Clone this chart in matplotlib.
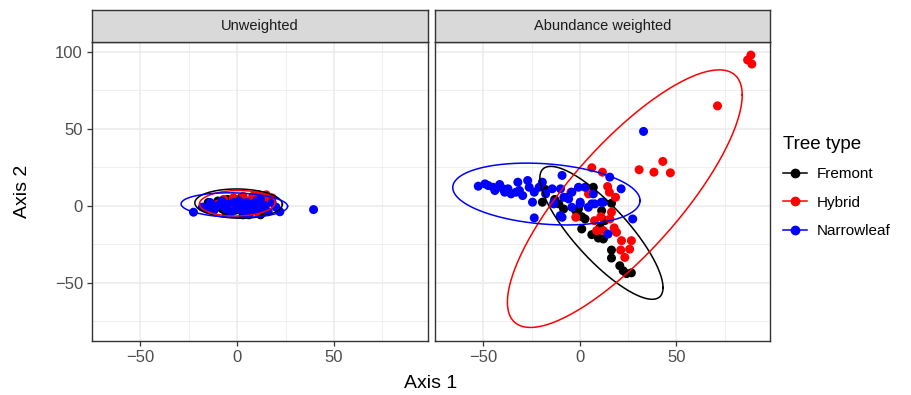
import numpy as np
import matplotlib
matplotlib.use("Agg")
import matplotlib.pyplot as plt
from matplotlib.lines import Line2D

plt.rcParams['font.family'] = ['Liberation Sans', 'DejaVu Sans']

panels = ["Unweighted", "Abundance weighted"]
groups = ["Fremont", "Hybrid", "Narrowleaf"]
colors = {"Fremont": "#000000", "Hybrid": "#FF0000", "Narrowleaf": "#0000FF"}

# ---- Unweighted panel points ----
unw_fremont_x = [-15, -12, -10, -8, -5, -3, -1, 0, 2, 4, 5, 7, 8, 10, 11, 13, 15, -6, 3, 12, 17]
unw_fremont_y = [2, -1, 3, -2, 4, 0, -3, 2, 5, -2, 1, -4, 3, -1, 5, -3, 1, -4, -6, -6, 4]
unw_hybrid_x = [-10, -7, -4, -2, 0, 1, 3, 5, 6, 8, 9, 11, 12, 14, 15, 16, 18, 4, 10]
unw_hybrid_y = [1, 4, -1, 5, 2, -2, 6, 3, -1, 6, 2, 7, -1, 4, 7, 2, 5, -4, -4]
unw_narrow_x = [-22.6, 39.4, -18, -14, -12, -10, -8, -6, -5, -3, -2, 0, 1, 2, 3, 4, 5, 6, 8, 9,
                10, 12, 14, 16, 18, 20, 22, -16, 6, 12]
unw_narrow_y = [-4.3, -2.6, -1, 2, -3, 0, 3, -2, 1, -4, 2, -1, 3, -3, 0, -5, 2, -1, 1, -3,
                3, -2, 0, -4, 2, -1, -4, -2, -6, 4]

# ---- Abundance weighted panel points ----
abw_fremont_x = [-17.7, -19.4, -10.9, -8.4, -2.1, -0.7, 1.0, 2.7, 1.0, 7.0, 11.3, 16.4, 6.2, 9.6,
                 12.2, 16.4, 16.4, 20.7, 22.5, 24.2, 26.7, 12.9, 10.4, -13.0]
abw_fremont_y = [10.4, 2.2, 1.1, -2.2, -3.3, -2.2, -7.2, -8.7, -15.2, 11.9, -3.3, 1.5, -18.9, -21.1,
                 -21.7, -28.9, -34.1, -39.1, -42.4, -44.2, -43.7, -9.8, -14.1, 4.0]
abw_hybrid_x = [6.2, 11.7, 30.7, 38.4, 43.0, 46.9, 71.3, 88.6, 86.9, 89.1, -4.6, 14.4, 15.3, 18.5,
                4.5, 10.9, 8.7, 15.6, 16.4, 19.0, 21.6, 26.7, 21.2, 25.8, 23.3, 12.2, 7.6, -2.1, 17.8]
abw_hybrid_y = [24.6, 21.7, 23.3, 21.7, 28.7, 21.3, 64.8, 97.8, 94.6, 92.0, 8.7, 12.4, 8.7, 5.4,
                7.6, -7.2, -16.3, -8.7, -4.3, -17.4, -22.8, -22.8, -28.9, -28.3, -33.7, -16.3, -9.8,
                -7.6, -14.5]
abw_narrow_x = [-52.6, -49.1, -47.4, -44.9, -44.0, -41.5, -39.8, -37.2, -35.6, -32.1, -31.3, -29.6,
                -27.0, -26.2, -24.5, -23.6, -21.1, -19.4, -17.7, -14.3, -13.4, -9.2, -10.0, -8.3,
                -6.6, -9.2, -5.8, -4.1, -0.7, 0.2, 2.7, 4.4, 7.0, 7.8, 11.2, 15.5, 21.4, 27.4,
                14.6, -23.6, 33.0, -38.9, -33.0, 6.2, 0.2, -10.1, -13.5, -4.1, 12.2]
abw_narrow_y = [12.6, 14.1, 13.0, 11.9, 9.8, 13.7, 10.9, 10.9, 7.6, 15.2, 9.8, 6.5,
                16.3, 11.9, 2.2, 8.7, 11.9, 15.2, 7.6, 10.9, 2.2, 19.6, 10.9, 5.4,
                5.4, -7.6, 4.3, 8.7, 11.9, 2.2, 11.9, -1.1, 7.6, 1.1, 2.2, 18.5, 10.9, -8.7,
                -18.5, -8.0, 48.2, 8.7, 8.7, 1.1, 1.1, -6.5, 1.1, -1.1, 2.2]

points = {
    "Unweighted": {
        "Fremont": (unw_fremont_x, unw_fremont_y),
        "Hybrid": (unw_hybrid_x, unw_hybrid_y),
        "Narrowleaf": (unw_narrow_x, unw_narrow_y),
    },
    "Abundance weighted": {
        "Fremont": (abw_fremont_x, abw_fremont_y),
        "Hybrid": (abw_hybrid_x, abw_hybrid_y),
        "Narrowleaf": (abw_narrow_x, abw_narrow_y),
    },
}

# ---- 95% ellipse summaries: centre x, centre y, half x-extent, half y-extent, correlation ----
unw_ellipses = {
    "Fremont": [0.7, 1.3, 22.6, 9.5, -0.05],
    "Hybrid": [0.0, 1.5, 19.5, 8.3, 0.05],
    "Narrowleaf": [-1.5, 0.3, 27.5, 8.0, -0.1],
}
abw_ellipses = {
    "Fremont": [11.2, -17.7, 31.9, 43.2, -0.824],
    "Hybrid": [23.3, 4.5, 60.8, 83.7, 0.804],
    "Narrowleaf": [-17.3, 7.5, 48.5, 20.1, -0.21],
}
ellipses = {"Unweighted": unw_ellipses, "Abundance weighted": abw_ellipses}

x_ticks = [-50, 0, 50]
y_ticks = [-50, 0, 50, 100]

fig = plt.figure(figsize=(9.12, 3.95), dpi=100)
W, H = 912, 395
panel_px = [(92, 428), (435, 770)]
top_px, bot_px = 41.7, 341
strip_top = 10

t = np.linspace(0, 2 * np.pi, 300)
border_col = "#333333"
for (x0, x1), name in zip(panel_px, panels):
    ax = fig.add_axes([x0 / W, 1 - bot_px / H, (x1 - x0) / W, (bot_px - top_px) / H])
    ax.set_xlim(-74, 98.5)
    ax.set_ylim(-88, 106.5)
    ax.set_xticks(x_ticks)
    ax.set_yticks(y_ticks)
    ax.set_xticks([-75, -25, 25, 75], minor=True)
    ax.set_yticks([-75, -25, 25, 75], minor=True)
    ax.grid(which="major", color="#EBEBEB", lw=1.1, zorder=0)
    ax.grid(which="minor", color="#EBEBEB", lw=0.55, zorder=0)
    ax.set_axisbelow(True)
    for s in ax.spines.values():
        s.set_color(border_col)
        s.set_linewidth(1.0)
    ax.tick_params(which="major", length=3.5, width=0.9, color=border_col,
                   labelsize=12, labelcolor="#4D4D4D", pad=3)
    ax.tick_params(which="minor", length=0)
    if name != panels[0]:
        ax.tick_params(axis="y", labelleft=False, length=0)
    for g in groups:
        xs, ys = points[name][g]
        ax.scatter(xs, ys, s=42, color=colors[g], edgecolors="none", zorder=3)
    for g in groups:
        cx, cy, hx, hy, r = ellipses[name][g]
        ex = cx + hx * np.cos(t)
        ey = cy + hy * (r * np.cos(t) + np.sqrt(1 - r * r) * np.sin(t))
        ax.plot(ex, ey, color=colors[g], lw=1.1, zorder=4)
    # strip
    sax = fig.add_axes([x0 / W, 1 - top_px / H, (x1 - x0) / W, (top_px - strip_top) / H])
    sax.set_facecolor("#D9D9D9")
    sax.set_xticks([])
    sax.set_yticks([])
    for s in sax.spines.values():
        s.set_color(border_col)
        s.set_linewidth(1.0)
    sax.text(0.5, 0.5, name, ha="center", va="center", fontsize=10.5, color="#1A1A1A",
             transform=sax.transAxes)

fig.text((92 + 770) / 2 / W, 1 - 383 / H, "Axis 1", ha="center", va="center", fontsize=14)
fig.text(23 / W, 1 - 191 / H, "Axis 2", ha="center", va="center", fontsize=14, rotation=90)

handles = [Line2D([0], [0], color=colors[g], lw=1.1, marker="o", markersize=6) for g in groups]
leg = fig.legend(handles, groups, loc="upper left", bbox_to_anchor=(772 / W, 1 - 125 / H),
                 frameon=False, title="Tree type", fontsize=11, title_fontsize=13.5,
                 handlelength=1.6, handletextpad=0.6, labelspacing=0.95, borderpad=0.2)
leg._legend_box.align = "left"

fig.savefig("out.png", dpi=100)
